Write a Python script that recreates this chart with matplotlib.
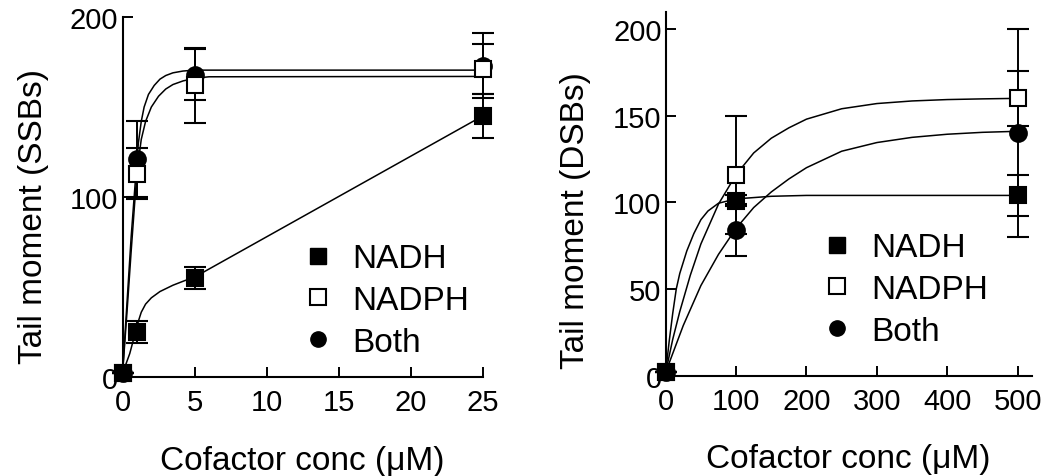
from matplotlib import pyplot as plt
from matplotlib.lines import Line2D

plt.rcParams['font.family'] = ['Liberation Sans', 'DejaVu Sans']

# ---- left panel: SSBs ----
ssb_x = [0, 1, 5, 25]
ssb_nadh = [2, 25, 55, 145]
ssb_nadh_err = [0, 6, 6, 12]
ssb_nadph = [2, 113, 162, 171]
ssb_nadph_err = [0, 14, 21, 14]
ssb_both = [2, 121, 168, 173]
ssb_both_err = [0, 21, 14, 18]

# fitted curves
ssb_fit_nadh_x = [0, 0.5, 0.9, 1.1, 1.3, 1.6, 2.0, 2.6, 3.5, 4.3, 5, 25]
ssb_fit_nadh_y = [2, 13, 25, 31, 36, 40.5, 44, 47.5, 51, 53.5, 55.5, 145]
ssb_fit_nadph_x = [0, 0.3, 0.6, 0.9, 1.1, 1.3, 1.6, 2.0, 2.5, 3.0, 3.5, 4.2, 5, 6, 25]
ssb_fit_nadph_y = [2, 35, 70, 103, 120, 132, 142, 150, 156, 160, 162.5, 164.5, 166, 166.8, 167]
ssb_fit_both_x = [0, 0.3, 0.6, 0.9, 1.1, 1.3, 1.5, 1.8, 2.2, 2.6, 3.0, 3.5, 4.2, 5, 25]
ssb_fit_both_y = [2, 40, 78, 110, 130, 142, 150, 157, 162, 165.5, 167.5, 169, 170, 170.5, 170.5]

# ---- right panel: DSBs ----
dsb_x = [0, 100, 500]
dsb_nadh = [2, 101, 104]
dsb_nadh_err = [0, 3, 12]
dsb_nadph = [2, 116, 160]
dsb_nadph_err = [0, 34, 16]
dsb_both = [2, 84, 140]
dsb_both_err = [0, 15, 60]

dsb_fit_nadh_x = [0, 5, 10, 15, 20, 30, 40, 50, 60, 75, 100, 150, 200, 500]
dsb_fit_nadh_y = [2, 20, 36, 50, 59, 72, 82, 90, 95, 99.5, 102, 103.5, 104, 104]
dsb_fit_nadph_x = [0, 10, 20, 35, 50, 75, 100, 125, 150, 175, 200, 250, 300, 350, 400, 450, 500]
dsb_fit_nadph_y = [2, 21, 37, 58, 76, 99, 116, 128.5, 137, 143, 148, 154, 157, 158.5, 159.3, 159.7, 160]
dsb_fit_both_x = [0, 25, 50, 75, 100, 125, 150, 175, 200, 250, 300, 350, 400, 450, 500]
dsb_fit_both_y = [2, 29, 52, 70, 85, 97, 106, 113.5, 120, 129.5, 134.5, 137.5, 139.3, 140.4, 141]

fig = plt.figure(figsize=(10.5, 4.77), dpi=100)
ax1 = fig.add_axes([0.1167, 0.2075, 0.3429, 0.7547])
ax2 = fig.add_axes([0.634, 0.2103, 0.3486, 0.7631])

mk = dict(color='k', ms=12, mew=1.5, capsize=8, elinewidth=1.4, capthick=1.4,
          ls='none', clip_on=False)


def panel(ax, x, nadh, nadh_e, nadph, nadph_e, both, both_e, fits):
    for fx, fy in fits:
        ax.plot(fx, fy, '-', color='k', lw=1.1, clip_on=False)
    ax.errorbar(x, both, yerr=both_e, fmt='o', mfc='k', mec='k', **mk)
    ax.errorbar(x, nadph, yerr=nadph_e, fmt='s', mfc='white', mec='k', **mk)
    ax.errorbar(x, nadh, yerr=nadh_e, fmt='s', mfc='k', mec='k', **mk)
    for s in ['top', 'right']:
        ax.spines[s].set_visible(False)
    for s in ['left', 'bottom']:
        ax.spines[s].set_linewidth(1.5)
    ax.tick_params(direction='in', length=7, width=1.4, labelsize=21)
    ax.tick_params(axis='x', pad=8)
    ax.tick_params(axis='y', pad=3)
    ax.set_xlabel('Cofactor conc (\u03bcM)', fontsize=24)


panel(ax1, ssb_x, ssb_nadh, ssb_nadh_err, ssb_nadph, ssb_nadph_err, ssb_both, ssb_both_err,
      [(ssb_fit_nadh_x, ssb_fit_nadh_y), (ssb_fit_nadph_x, ssb_fit_nadph_y),
       (ssb_fit_both_x, ssb_fit_both_y)])
ax1.set_xlim(0, 25)
ax1.set_ylim(0, 200)
ax1.set_xticks([0, 5, 10, 15, 20, 25])
ax1.set_yticks([0, 100, 200])
ax1.set_ylabel('Tail moment (SSBs)', fontsize=24)
ax1.yaxis.set_label_coords(-0.205, 0.45)
ax1.xaxis.set_label_coords(0.5, -0.19)

panel(ax2, dsb_x, dsb_nadh, dsb_nadh_err, dsb_nadph, dsb_nadph_err, dsb_both, dsb_both_err,
      [(dsb_fit_nadh_x, dsb_fit_nadh_y), (dsb_fit_nadph_x, dsb_fit_nadph_y),
       (dsb_fit_both_x, dsb_fit_both_y)])
ax2.set_xlim(0, 520)
ax2.set_ylim(0, 210)
ax2.set_xticks([0, 100, 200, 300, 400, 500])
ax2.set_yticks([0, 50, 100, 150, 200])
ax2.set_ylabel('Tail moment (DSBs)', fontsize=24)
ax2.yaxis.set_label_coords(-0.205, 0.43)
ax2.xaxis.set_label_coords(0.5, -0.185)

handles = [Line2D([], [], marker='s', ls='none', mfc='k', mec='k', ms=11),
           Line2D([], [], marker='s', ls='none', mfc='white', mec='k', mew=1.5, ms=11),
           Line2D([], [], marker='o', ls='none', mfc='k', mec='k', ms=11)]
names = ['NADH', 'NADPH', 'Both']
for ax, lx, ly in [(ax1, 0.506, 0.213), (ax2, 0.431, 0.237)]:
    ax.legend(handles, names, loc='center left', bbox_to_anchor=(lx, ly), frameon=False,
              fontsize=24, handlelength=0.8, handletextpad=0.62, borderpad=0,
              borderaxespad=0, labelspacing=0.32)

plt.savefig('out.png', dpi=100)
